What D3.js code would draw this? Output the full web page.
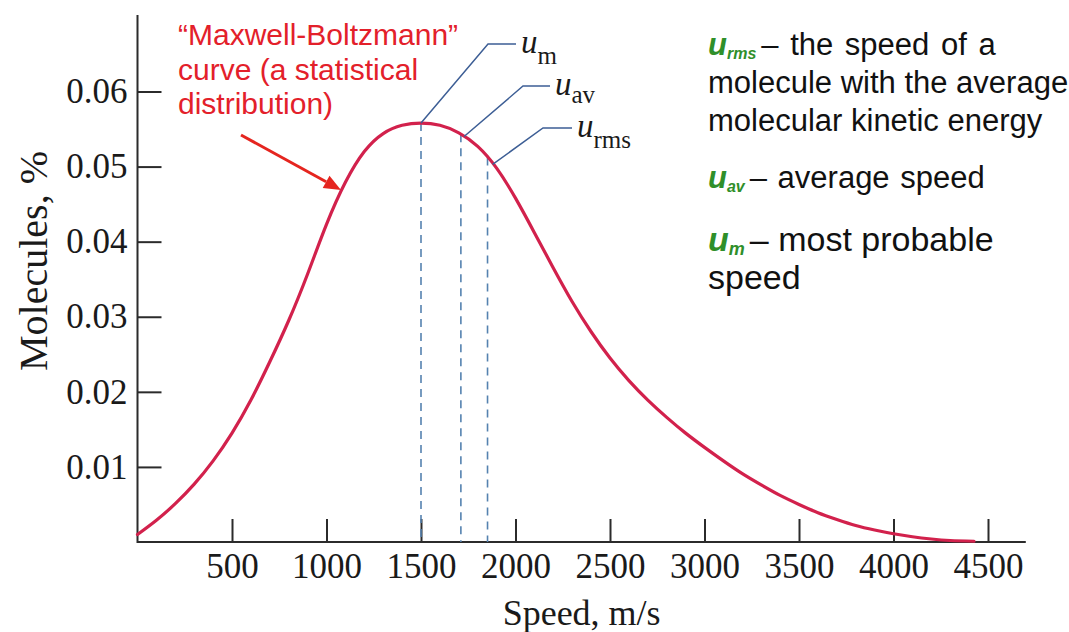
<!DOCTYPE html>
<html>
<head>
<meta charset="utf-8">
<script src="https://cdn.jsdelivr.net/npm/d3@7"></script>
<style>
  html, body { margin: 0; padding: 0; background: #ffffff; }
  svg { display: block; }
</style>
</head>
<body>
<svg id="chart" width="1069" height="632"></svg>
<script>
// ---- data ----
const speeds = [0, 100, 200, 300, 400, 500, 600, 700, 800, 900, 1000, 1100, 1200, 1300, 1400,
  1500, 1600, 1700, 1800, 1900, 2000, 2100, 2200, 2300, 2400, 2500, 2600, 2700, 2800, 2900,
  3000, 3100, 3200, 3300, 3400, 3500, 3600, 3700, 3800, 3900, 4000, 4100, 4200, 4300, 4426];
const molecules = [0.0010, 0.0029, 0.0051, 0.0077, 0.0108, 0.0145, 0.0189, 0.0240, 0.0295, 0.0357,
  0.0423, 0.0479, 0.0520, 0.0544, 0.0555, 0.0558, 0.0555, 0.0545, 0.0527, 0.0498, 0.0458,
  0.0412, 0.0365, 0.0320, 0.0280, 0.0245, 0.0215, 0.0189, 0.0166, 0.0145, 0.0126, 0.0108,
  0.0091, 0.0076, 0.0062, 0.0050, 0.0039, 0.0030, 0.0022, 0.0016, 0.0011, 0.0007, 0.0004,
  0.0002, 0.0001];
const xTicks = [500, 1000, 1500, 2000, 2500, 3000, 3500, 4000, 4500];
const yTicks = [0.01, 0.02, 0.03, 0.04, 0.05, 0.06];
const xAxisEnd = 4700;     // axis line continues past the last tick
const yAxisEnd = 0.0702;   // axis line continues above the last tick
const markerNames = ["m", "av", "rms"];
const markerSpeeds = [1500, 1711, 1852];
const markerValues = [0.0558, 0.0543, 0.0512];
const xTitle = "Speed, m/s";
const yTitle = "Molecules, %";
const curveNote = ["\u201CMaxwell-Boltzmann\u201D", "curve (a statistical", "distribution)"];

const svg = d3.select("#chart");
const x = d3.scaleLinear().domain([0, 4500]).range([137.5, 988]);
const y = d3.scaleLinear().domain([0, 0.06]).range([542, 91.5]);

const serif = "'Liberation Serif', 'Times New Roman', serif";
const sans = "'Liberation Sans', Arial, sans-serif";
const axisColor = "#2b2b2b";

// ---- axes ----
const gx = svg.append("g").attr("transform", `translate(0,${y(0)})`)
  .call(d3.axisBottom(x).tickValues(xTicks).tickSize(-23).tickSizeOuter(0).tickPadding(11)
    .tickFormat(d3.format("d")));
const gy = svg.append("g").attr("transform", `translate(${x(0)},0)`)
  .call(d3.axisLeft(y).tickValues(yTicks).tickSize(-24).tickSizeOuter(0).tickPadding(10)
    .tickFormat(d3.format(".2f")));
[gx, gy].forEach(g => {
  g.select(".domain").remove();
  g.selectAll(".tick line").attr("stroke", axisColor).attr("stroke-width", 2);
  g.selectAll(".tick text").attr("fill", "#1a1a1a").style("font-family", serif).style("font-size", "35px");
});
svg.append("line").attr("x1", x(0)).attr("x2", x(xAxisEnd)).attr("y1", y(0)).attr("y2", y(0))
  .attr("stroke", axisColor).attr("stroke-width", 2);
svg.append("line").attr("x1", x(0)).attr("x2", x(0)).attr("y1", y(0) + 1).attr("y2", y(yAxisEnd))
  .attr("stroke", axisColor).attr("stroke-width", 2);

// axis titles
svg.append("text").attr("x", (x(0) + x(xAxisEnd)) / 2).attr("y", 625)
  .attr("text-anchor", "middle").style("font-family", serif).style("font-size", "36px")
  .attr("fill", "#1a1a1a").text(xTitle);
svg.append("text").attr("transform", "translate(47,261) rotate(-90)")
  .attr("text-anchor", "middle").style("font-family", serif).style("font-size", "40px")
  .attr("fill", "#1a1a1a").text(yTitle);

// ---- dashed marker lines ----
svg.append("g").selectAll("line").data(markerSpeeds).join("line")
  .attr("x1", d => x(d)).attr("x2", d => x(d))
  .attr("y1", (d, i) => y(markerValues[i])).attr("y2", y(0))
  .attr("stroke", "#5582b0").attr("stroke-width", 1.6).attr("stroke-dasharray", "8,6");

// ---- curve ----
const pts = speeds.map((s, i) => [s, molecules[i]]);
svg.append("path").datum(pts)
  .attr("d", d3.line().x(d => x(d[0])).y(d => y(d[1])).curve(d3.curveNatural))
  .attr("fill", "none").attr("stroke", "#d2214c").attr("stroke-width", 3.2)
  .attr("stroke-linecap", "round");

// ---- leader lines and u labels ----
const leaderStart = [[1500, 0.0558], [1728, 0.0540], [1879, 0.0503]];
const leaderElbow = [[488, 44], [523, 86], [543, 128]];
const leaderEnd = [516, 550, 572];
const subDy = [11, 8, 11];
markerNames.forEach((n, i) => {
  const s = leaderStart[i];
  svg.append("polyline")
    .attr("points", `${x(s[0])},${y(s[1])} ${leaderElbow[i][0]},${leaderElbow[i][1]} ${leaderEnd[i]},${leaderElbow[i][1]}`)
    .attr("fill", "none").attr("stroke", "#3d5e95").attr("stroke-width", 1.5);
  const t = svg.append("text").attr("x", leaderEnd[i] + 5).attr("y", leaderElbow[i][1] + 9)
    .style("font-family", serif).attr("fill", "#1a1a1a");
  t.append("tspan").style("font-style", "italic").style("font-size", "33px").text("u");
  t.append("tspan").style("font-size", "25px").attr("dy", subDy[i]).text(n);
});

// ---- red annotation with arrow ----
const note = svg.append("text").style("font-family", sans).style("font-size", "30px").attr("fill", "#e3202a");
curveNote.forEach((line, i) => {
  note.append("tspan").attr("x", 178).attr("y", 45 + i * 34.5).text(line);
});
const arrowColor = "#e5251f";
const a0 = [241, 135], a1 = [341, 190];
const ang = Math.atan2(a1[1] - a0[1], a1[0] - a0[0]);
const headLen = 17, headW = 7;
const base = [a1[0] - headLen * Math.cos(ang), a1[1] - headLen * Math.sin(ang)];
svg.append("line").attr("x1", a0[0]).attr("y1", a0[1]).attr("x2", base[0]).attr("y2", base[1])
  .attr("stroke", arrowColor).attr("stroke-width", 3);
svg.append("path")
  .attr("d", `M${a1[0]},${a1[1]} L${base[0] - headW * Math.sin(ang)},${base[1] + headW * Math.cos(ang)} L${base[0] + headW * Math.sin(ang)},${base[1] - headW * Math.cos(ang)} Z`)
  .attr("fill", arrowColor);

// ---- right-hand definitions ----
const green = "#2f8f2a";
const defs = [
  { sub: "rms", size: 31, lines: ["\u2013 the speed of a", "molecule with the average", "molecular kinetic energy"], y: 55, lh: 38, ws: 3 },
  { sub: "av", size: 31, lines: ["\u2013 average speed"], y: 188, lh: 38, ws: 2 },
  { sub: "m", size: 34, lines: ["\u2013 most probable", "speed"], y: 251, lh: 38, ws: 0 }
];
defs.forEach(d => {
  const t = svg.append("text").style("font-family", sans).style("font-size", d.size + "px")
    .attr("fill", "#111");
  d.lines.forEach((line, i) => {
    if (i === 0) {
      const first = t.append("tspan").attr("x", 708).attr("y", d.y);
      first.append("tspan").attr("fill", green).style("font-weight", "bold").style("font-style", "italic").text("u");
      first.append("tspan").attr("fill", green).style("font-weight", "bold").style("font-style", "italic")
        .style("font-size", Math.round(d.size * 0.52) + "px").attr("dy", 4).text(d.sub);
      first.append("tspan").attr("dy", -4).attr("dx", 5).style("word-spacing", d.ws + "px").text(line);
    } else {
      t.append("tspan").attr("x", 708).attr("y", d.y + i * d.lh).text(line);
    }
  });
});
</script>
</body>
</html>
